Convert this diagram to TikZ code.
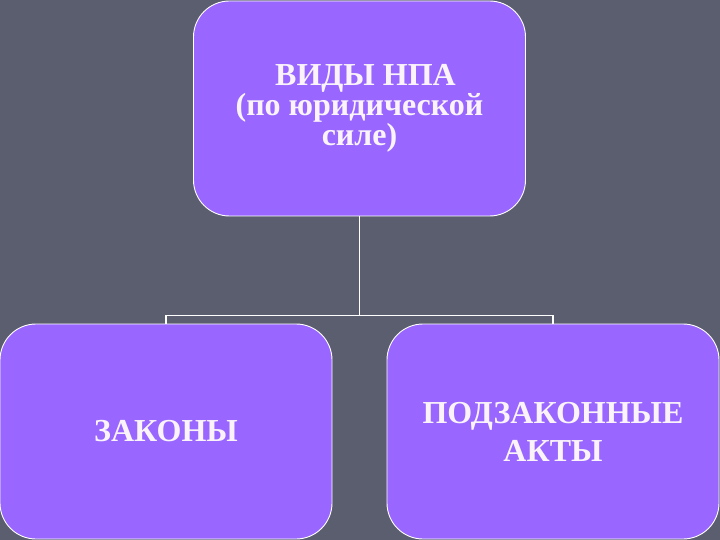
\documentclass[tikz,border=0pt]{standalone}
\usepackage{fontspec}
\setmainfont{Liberation Serif}
\definecolor{bgc}{RGB}{90,94,110}
\definecolor{boxc}{RGB}{153,102,255}
\definecolor{txtc}{RGB}{250,244,250}
\begin{document}
\begin{tikzpicture}[x=1pt,y=-1pt,
  box/.style={draw=white, line width=0.9pt, fill=boxc, rounded corners=36pt,
    minimum width=332pt, minimum height=215pt, inner sep=0pt, align=center,
    text=txtc, font=\bfseries},
  conn/.style={draw=white, line width=1.6pt}]
\fill[bgc] (0,0) rectangle (720,540);
\useasboundingbox (0,0) rectangle (720,540);
\node[box, font=\bfseries\fontsize{32}{30}\selectfont] (top) at (359.5,108.5)
  {\hspace*{12pt}ВИДЫ НПА\\(по юридической\hspace*{12pt}\\силе)};
\node[box, font=\bfseries\fontsize{32}{38}\selectfont] (left) at (166,431.5) {ЗАКОНЫ};
\node[box, font=\bfseries\fontsize{32}{38}\selectfont] (right) at (553,431.5) {ПОДЗАКОННЫЕ\\АКТЫ};
\draw[conn] (top.south) -- ++(0,99) coordinate (j);
\draw[conn] (j) -| (left.north);
\draw[conn] (j) -| (right.north);
\end{tikzpicture}
\end{document}
